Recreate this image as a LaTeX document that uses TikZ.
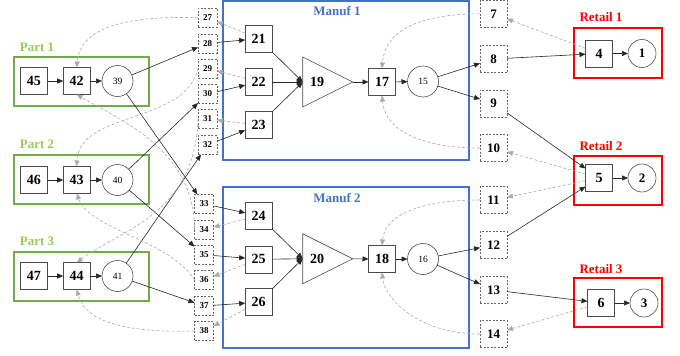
\documentclass[tikz,border=0pt]{standalone}
\usepackage{fontspec}
\setmainfont{Liberation Serif}
\usetikzlibrary{arrows.meta,shapes.geometric}
\definecolor{partgreen}{RGB}{112,173,71}
\definecolor{partlabel}{RGB}{146,208,80}
\definecolor{manblue}{RGB}{68,114,196}
\definecolor{retred}{RGB}{255,0,0}
\tikzset{
  sq/.style={draw=black!70, line width=0.6pt, minimum size=27pt, inner sep=0pt, outer sep=0pt,
    font=\fontsize{14}{14}\selectfont\bfseries},
  smallbox/.style={draw=black!60, dash pattern=on 2pt off 1.5pt, line width=0.6pt, minimum size=19pt,
    inner sep=0pt, outer sep=0pt, font=\fontsize{9}{9}\selectfont\bfseries},
  sidebox/.style={draw=black!60, dash pattern=on 2pt off 1.5pt, line width=0.6pt, minimum size=27pt,
    inner sep=0pt, outer sep=0pt, font=\fontsize{13}{13}\selectfont\bfseries},
  smallcirc/.style={circle, draw=black!70, line width=0.6pt, minimum size=31pt, inner sep=0pt,
    outer sep=0pt, font=\fontsize{9.5}{9.5}\selectfont},
  endcirc/.style={circle, draw=black!70, line width=0.6pt, minimum size=28pt, inner sep=0pt,
    outer sep=0pt, font=\fontsize{13}{13}\selectfont\bfseries},
  tri/.style={isosceles triangle, isosceles triangle stretches, shape border rotate=0,
    draw=black!70, line width=0.6pt, minimum width=50pt, minimum height=50pt,
    inner sep=0pt, outer sep=0pt},
  trilab/.style={font=\fontsize{14}{14}\selectfont\bfseries, inner sep=0pt},
  flow/.style={draw=black!85, line width=0.6pt, -{Triangle[length=6pt,width=5pt]}},
  info/.style={draw=black!33, line width=0.6pt, dash pattern=on 3pt off 2pt,
    -{Triangle[length=6pt,width=5pt]}},
  partframe/.style={draw=partgreen, line width=1.6pt},
  manframe/.style={draw=manblue, line width=1.6pt},
  retframe/.style={draw=retred, line width=1.6pt},
  grouplab/.style={font=\fontsize{13}{13}\selectfont\bfseries, inner sep=0pt},
}
\begin{document}
\begin{tikzpicture}[x=1pt,y=-1pt]
\useasboundingbox (0,0) rectangle (680,356);

% cluster frames
\draw[partframe] (14,57) rectangle (149,106);
\draw[partframe] (14,155) rectangle (149,204);
\draw[partframe] (14,252) rectangle (149,301);
\draw[manframe] (223,1) rectangle (469,160);
\draw[manframe] (223,187) rectangle (469,348);
\draw[retframe] (574,28) rectangle (662,78);
\draw[retframe] (574,156) rectangle (662,205);
\draw[retframe] (574,278) rectangle (662,327);

% cluster titles
\node[grouplab, text=partlabel] (lp1) at (37,47) {Part 1};
\node[grouplab, text=partlabel] (lp2) at (37,144) {Part 2};
\node[grouplab, text=partlabel] (lp3) at (37,241) {Part 3};
\node[grouplab, text=manblue] (lm1) at (337,11) {Manuf 1};
\node[grouplab, text=manblue] (lm2) at (337,198) {Manuf 2};
\node[grouplab, text=retred] (lr1) at (601,17) {Retail 1};
\node[grouplab, text=retred] (lr2) at (601,146) {Retail 2};
\node[grouplab, text=retred] (lr3) at (601,269) {Retail 3};

% parts
\node[sq] (n45) at (34,81) {45};
\node[sq] (n42) at (76.7,81) {42};
\node[smallcirc] (n39) at (117.5,81) {39};
\node[sq] (n46) at (34,180) {46};
\node[sq] (n43) at (76.7,180) {43};
\node[smallcirc] (n40) at (117.5,180) {40};
\node[sq] (n47) at (34,276) {47};
\node[sq] (n44) at (76.7,276) {44};
\node[smallcirc] (n41) at (117.5,276) {41};

% small buffers between parts and manufacturing
\node[smallbox] (n27) at (207.5,17.8) {27};
\node[smallbox] (n28) at (207.5,43.3) {28};
\node[smallbox] (n29) at (207.5,68.3) {29};
\node[smallbox] (n30) at (207.5,94) {30};
\node[smallbox] (n31) at (207.5,119) {31};
\node[smallbox] (n32) at (207.5,145) {32};
\node[smallbox] (n33) at (204,203.8) {33};
\node[smallbox] (n34) at (204,229.5) {34};
\node[smallbox] (n35) at (204,254.7) {35};
\node[smallbox] (n36) at (204,280) {36};
\node[smallbox] (n37) at (204,306) {37};
\node[smallbox] (n38) at (204,331) {38};

% manufacturing 1
\node[sq] (n21) at (258.7,38.7) {21};
\node[sq] (n22) at (258.7,82) {22};
\node[sq] (n23) at (258.7,125) {23};
\node[tri, anchor=apex] (m19) at (352.7,82) {};
\node[trilab] (l19) at (317,82) {19};
\node[sq] (n17) at (382,82) {17};
\node[smallcirc] (n15) at (423,81.5) {15};

% manufacturing 2
\node[sq] (n24) at (258.7,215.8) {24};
\node[sq] (n25) at (258.7,259.3) {25};
\node[sq] (n26) at (258.7,302.2) {26};
\node[tri, anchor=apex] (m20) at (352.7,258.8) {};
\node[trilab] (l20) at (317,258.8) {20};
\node[sq] (n18) at (382,259) {18};
\node[smallcirc] (n16) at (423,259) {16};

% buffers between manufacturing and retail
\node[sidebox] (n7) at (493.5,13.8) {7};
\node[sidebox] (n8) at (493.5,59) {8};
\node[sidebox] (n9) at (493.5,103.3) {9};
\node[sidebox] (n10) at (493.5,148) {10};
\node[sidebox] (n11) at (493.5,200) {11};
\node[sidebox] (n12) at (493.5,245) {12};
\node[sidebox] (n13) at (493.5,290) {13};
\node[sidebox] (n14) at (493.5,334) {14};

% retail
\node[sq] (n4) at (599,53.5) {4};
\node[endcirc] (n1) at (642,53.5) {1};
\node[sq] (n5) at (599,178) {5};
\node[endcirc] (n2) at (642,178) {2};
\node[sq] (n6) at (601,303) {6};
\node[endcirc] (n3) at (644,303) {3};

% material flow
\draw[flow] (n45) -- (n42);
\draw[flow] (n42) -- (n39);
\draw[flow] (n46) -- (n43);
\draw[flow] (n43) -- (n40);
\draw[flow] (n47) -- (n44);
\draw[flow] (n44) -- (n41);
\draw[flow] (n39) -- (n28);
\draw[flow] (n39) -- (n33);
\draw[flow] (n40) -- (n30);
\draw[flow] (n40) -- (n35);
\draw[flow] (n41) -- (n32);
\draw[flow] (n41) -- (n37);
\draw[flow] (n28) -- (n21);
\draw[flow] (n30) -- (n22);
\draw[flow] (n32) -- (n23);
\draw[flow] (n33) -- (n24);
\draw[flow] (n35) -- (n25);
\draw[flow] (n37) -- (n26);
\draw[flow] (n21) -- (m19.lower side);
\draw[flow] (n22) -- (m19.lower side);
\draw[flow] (n23) -- (m19.lower side);
\draw[flow] (m19.apex) -- (n17);
\draw[flow] (n17) -- (n15);
\draw[flow] (n15) -- (n8);
\draw[flow] (n15) -- (n9);
\draw[flow] (n24) -- (m20.lower side);
\draw[flow] (n25) -- (m20.lower side);
\draw[flow] (n26) -- (m20.lower side);
\draw[flow] (m20.apex) -- (n18);
\draw[flow] (n18) -- (n16);
\draw[flow] (n16) -- (n12);
\draw[flow] (n16) -- (n13);
\draw[flow] (n8) -- (n4);
\draw[flow] (n9) -- (n5);
\draw[flow] (n12) -- (n5);
\draw[flow] (n13) -- (n6);
\draw[flow] (n4) -- (n1);
\draw[flow] (n5) -- (n2);
\draw[flow] (n6) -- (n3);

% information flow (dashed, backwards)
\draw[info] (n21) -- (n27);
\draw[info] (n22) -- (n29);
\draw[info] (n23) -- (n31);
\draw[info] (n24) -- (n34);
\draw[info] (n25) -- (n36);
\draw[info] (n26) -- (n38);
\draw[info] (n4) -- (n7);
\draw[info] (n5) -- (n10);
\draw[info] (n5) -- (n11);
\draw[info] (n6) -- (n14);
\draw[info] (n27.west) .. controls (120,15) and (80,30) .. (n42.north);
\draw[info] (n29.west) .. controls (185,125) and (80,110) .. (n43.north);
\draw[info] (n31.west) .. controls (195,215) and (120,230) .. (n44.north);
\draw[info] (n34.west) .. controls (195,150) and (120,120) .. (n42.south);
\draw[info] (n36.west) .. controls (170,240) and (90,230) .. (n43.south);
\draw[info] (n38.west) .. controls (120,333) and (85,320) .. (n44.south);
\draw[info] (n7.west) .. controls (420,14) and (385,30) .. (n17.north);
\draw[info] (n10.west) .. controls (420,148) and (385,130) .. (n17.south);
\draw[info] (n11.west) .. controls (420,200) and (385,215) .. (n18.north);
\draw[info] (n14.west) .. controls (420,334) and (385,300) .. (n18.south);
\end{tikzpicture}
\end{document}
